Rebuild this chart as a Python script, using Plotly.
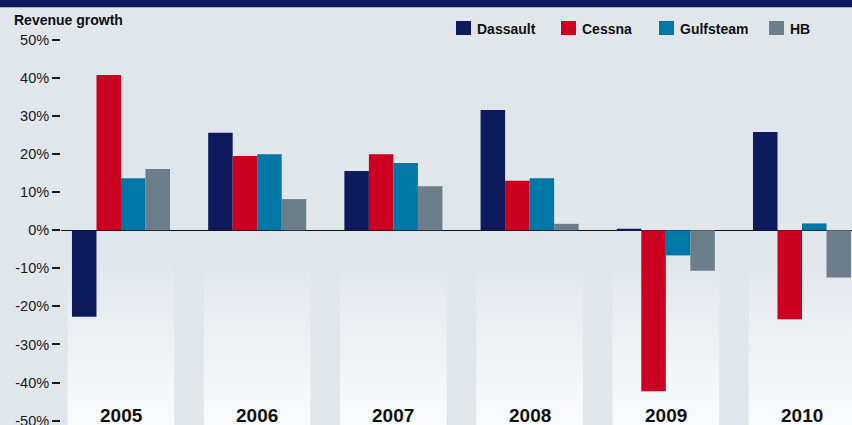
import plotly.graph_objects as go

# ---- data ----
years = ["2005", "2006", "2007", "2008", "2009", "2010"]
series_names = ["Dassault", "Cessna", "Gulfsteam", "HB"]
dassault = [-22.7, 25.6, 15.6, 31.6, 0.4, 25.8]
cessna = [40.8, 19.5, 20.0, 13.0, -42.3, -23.4]
gulfsteam = [13.7, 20.0, 17.7, 13.7, -6.6, 1.8]
hb = [16.1, 8.2, 11.6, 1.7, -10.6, -12.4]
series_values = [dassault, cessna, gulfsteam, hb]
y_tick_values = [-50, -40, -30, -20, -10, 0, 10, 20, 30, 40, 50]
y_tick_labels = [f"{v}%" for v in y_tick_values]
y_title = "Revenue growth"

# ---- style ----
colors = ["#0e1a5e", "#cc0020", "#0077a7", "#6a7f8a"]
BG = "#e1e6eb"
NAVY = "#0e1a5e"
FONT = "Liberation Sans, Arial, sans-serif"
W, H = 852, 425
ML, MR, MT, MB = 61, 0, 40, 0
PW, PH = W - ML - MR, H - MT - MB
XR = [-0.4405, 5.367]
YR = [-51.16, 50.0]


def px_x(px):
    return (px - ML) / PW


def px_y(py):
    return (H - MB - py) / PH


fig = go.Figure()

# gradient panels behind each year group (main axes)
half = 0.392
px_list, py_list = [], []
for i, _ in enumerate(years):
    px_list += [i - half, i + half, i + half, i - half, i - half, None]
    py_list += [-7.8, -7.8, -53, -53, -7.8, None]
fig.add_trace(go.Scatter(
    x=px_list, y=py_list, mode="lines", fill="toself",
    line=dict(width=0, color="rgba(0,0,0,0)"),
    fillgradient=dict(type="vertical",
                      colorscale=[[0, "#fbfcfd"], [1, BG]]),
    hoverinfo="skip", showlegend=False, xaxis="x", yaxis="y",
))

# bars on overlay axes so they sit above the panels
for name, vals, col in zip(series_names, series_values, colors):
    fig.add_trace(go.Bar(
        x=years, y=vals, name=name, marker=dict(color=col, line=dict(width=0)),
        xaxis="x2", yaxis="y2", showlegend=False,
    ))

shapes = []
annotations = []

# top navy band
shapes.append(dict(type="rect", xref="paper", yref="paper",
                   x0=px_x(0), x1=px_x(W), y0=px_y(7.3), y1=px_y(-2),
                   fillcolor=NAVY, line=dict(width=0), layer="above"))

# manual legend
leg_sq_x = [456, 561, 659, 769]
for name, col, sx in zip(series_names, colors, leg_sq_x):
    shapes.append(dict(type="rect", xref="paper", yref="paper",
                       x0=px_x(sx), x1=px_x(sx + 15), y0=px_y(35), y1=px_y(21),
                       fillcolor=col, line=dict(width=0)))
    annotations.append(dict(text=f"<b>{name}</b>", xref="paper", yref="paper",
                            x=px_x(sx + 19), y=px_y(28.5), xanchor="left", yanchor="middle",
                            showarrow=False, font=dict(family=FONT, size=14, color="#111111")))

# axis title
annotations.append(dict(text=f"<b>{y_title}</b>", xref="paper", yref="paper",
                        x=px_x(12), y=px_y(20), xanchor="left", yanchor="middle",
                        showarrow=False, font=dict(family=FONT, size=14, color="#111111")))

# year labels inside the plot
for i, yr in enumerate(years):
    annotations.append(dict(text=f"<b>{yr}</b>", xref="x", yref="paper",
                            x=i, y=px_y(415), xanchor="center", yanchor="middle",
                            showarrow=False, font=dict(family=FONT, size=19, color="#111111")))

fig.update_layout(
    width=W, height=H,
    margin=dict(l=ML, r=MR, t=MT, b=MB, pad=0, autoexpand=False),
    paper_bgcolor=BG, plot_bgcolor=BG,
    barmode="group", bargap=0.28, bargroupgap=0,
    showlegend=False,
    font=dict(family=FONT, size=14, color="#1a1a1a"),
    xaxis=dict(range=XR, visible=False, fixedrange=True, automargin=False),
    yaxis=dict(range=YR, tickvals=y_tick_values, ticktext=y_tick_labels,
               ticks="outside", ticklen=8, tickwidth=1.5, tickcolor="#1a1a1a",
               showgrid=False, showline=False, ticklabeloverflow="allow",
               automargin=False,
               zeroline=True, zerolinecolor="#111111", zerolinewidth=1.3,
               tickfont=dict(family=FONT, size=14.5, color="#1a1a1a")),
    xaxis2=dict(type="category", range=XR, overlaying="x", anchor="y2", visible=False,
                automargin=False),
    yaxis2=dict(range=YR, overlaying="y", anchor="x2", visible=False, automargin=False),
    shapes=shapes,
    annotations=annotations,
)

fig.write_html("out.html")
